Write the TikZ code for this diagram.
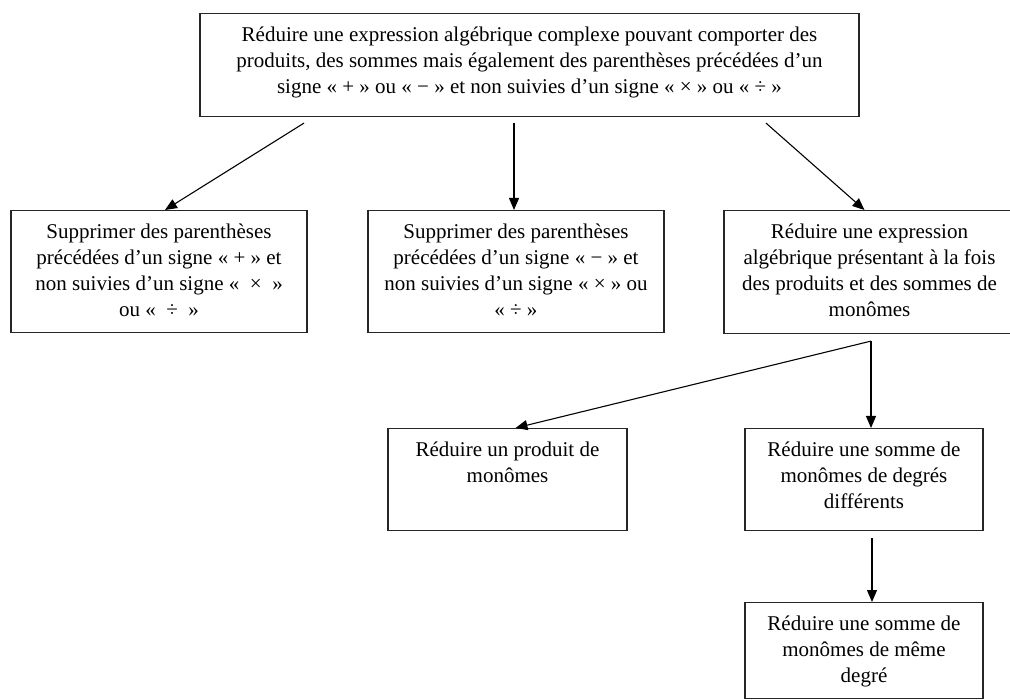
\documentclass[tikz,border=0pt]{standalone}
\usepackage{fontspec}
\setmainfont{Liberation Serif}
\usetikzlibrary{arrows.meta}
% fixed-size cell: text centred horizontally, set from the top
\newcommand\cell[3]{\parbox[c][#2pt][t]{#1pt}{\centering\vspace*{9.8pt}\strut #3}}
\begin{document}
\begin{tikzpicture}[x=1pt,y=-1pt,
  box/.style={draw=black!85, line width=1.1pt, inner sep=0pt, anchor=north,
              font=\fontsize{21}{26}\selectfont},
  link/.style={draw=black, line width=1.1pt, -{Triangle[length=12pt,width=10pt]}}]
\useasboundingbox (0,0) rectangle (1010,700);
\clip (0,0) rectangle (1010,700);

% main task
\node[box] (top) at (529.5,13) {\cell{659}{103}{Réduire une expression algébrique complexe pouvant comporter des\\produits, des sommes mais également des parenthèses précédées d’un\\signe « + » ou « − » et non suivies d’un signe « × » ou « ÷ »}};

% second level
\node[box] (a) at (159,210) {\cell{296}{122}{Supprimer des parenthèses\\précédées d’un signe « + » et\\non suivies d’un signe «~~×~~»\\ou «~~÷~~»}};
\node[box] (b) at (516,210) {\cell{296}{122}{Supprimer des parenthèses\\précédées d’un signe « − » et\\non suivies d’un signe « × » ou\\« ÷ »}};
\node[box] (c) at (869.5,210) {\cell{291}{123}{Réduire une expression\\algébrique présentant à la fois\\des produits et des sommes de\\monômes}};

% third level
\node[box] (d) at (507.5,428) {\cell{239}{102}{Réduire un produit de\\monômes}};
\node[box] (e) at (864,428) {\cell{238}{102}{Réduire une somme de\\monômes de degrés\\différents}};

% fourth level
\node[box] (f) at (864,602) {\cell{238}{96}{Réduire une somme de\\monômes de même\\degré}};

% connector start points, just below their parent boxes
\coordinate (t1) at ([shift={(-225.5,6)}]top.south);
\coordinate (t2) at ([shift={(-15.5,6)}]top.south);
\coordinate (t3) at ([shift={(236.5,6)}]top.south);
\coordinate (cs) at ([shift={(1.5,7)}]c.south);
\coordinate (es) at ([shift={(8,7)}]e.south);

\draw[link] (t1) -- ([xshift=6pt]a.north);
\draw[link] (t2) -- ([xshift=-2pt]b.north);
\draw[link] (t3) -- ([xshift=-5pt]c.north);
\draw[link] (cs) -- ([xshift=8pt]d.north);
\draw[link] (cs) -- ([xshift=7pt]e.north);
\draw[link] (es) -- ([xshift=8pt]f.north);
\end{tikzpicture}
\end{document}
